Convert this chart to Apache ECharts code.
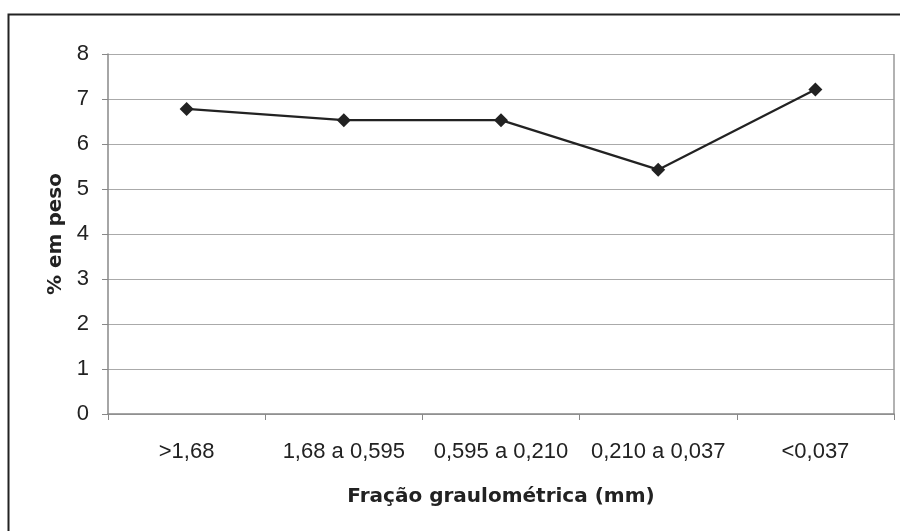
<!DOCTYPE html>
<html>
<head>
<meta charset="utf-8">
<script src="https://cdn.jsdelivr.net/npm/echarts@6/dist/echarts.min.js"></script>
<style>
  html, body { margin: 0; padding: 0; background: #fff; }
  #chart { width: 900px; height: 531px; }
</style>
</head>
<body>
<div id="chart"></div>
<script>
var categories = ['>1,68', '1,68 a 0,595', '0,595 a 0,210', '0,210 a 0,037', '<0,037'];
var values = [6.78, 6.53, 6.53, 5.43, 7.21];

var chartDom = document.getElementById('chart');
var myChart = echarts.init(chartDom);
var option;

option = {
    backgroundColor: '#fff',
    animation: false,
    textStyle: { fontFamily: 'Liberation Sans, Arial, sans-serif' },
    grid: {
        left: 108,
        right: 6,
        top: 54,
        bottom: 117
    },
    xAxis: {
        type: 'category',
        data: categories,
        boundaryGap: true,
        name: 'Fração graulométrica (mm)',
        nameLocation: 'middle',
        nameGap: 73,
        nameTextStyle: {
            fontSize: 20,
            fontWeight: 'bold',
            fontFamily: 'DejaVu Sans',
            color: '#222'
        },
        axisLine: { show: true, lineStyle: { color: '#888', width: 1.5 } },
        axisTick: { show: true, length: 6, inside: false, lineStyle: { color: '#888' } },
        axisLabel: { fontSize: 22, color: '#222', margin: 27, interval: 0 },
        splitLine: { show: false }
    },
    yAxis: {
        type: 'value',
        min: 0,
        max: 8,
        interval: 1,
        name: '% em peso',
        nameLocation: 'middle',
        nameGap: 40,
        nameTextStyle: {
            fontSize: 20,
            fontWeight: 'bold',
            fontFamily: 'DejaVu Sans',
            color: '#222'
        },
        axisLine: { show: true, lineStyle: { color: '#888', width: 1.5 } },
        axisTick: { show: true, length: 6, lineStyle: { color: '#888' } },
        axisLabel: { fontSize: 22, color: '#222', margin: 19 },
        splitLine: { show: true, lineStyle: { color: '#aaa', width: 1 } }
    },
    series: [
        {
            name: '% em peso',
            type: 'line',
            data: values,
            symbol: 'diamond',
            symbolSize: 14,
            lineStyle: { color: '#222', width: 2.2 },
            itemStyle: { color: '#222' }
        }
    ]
};

option && myChart.setOption(option);

// outer frame and right edge of the plot area, taken from the grid's geometry
var rect = myChart.getModel().getComponent('grid').coordinateSystem.getRect();
myChart.setOption({
    graphic: [
        {
            type: 'polyline',
            shape: { points: [[8.5, 531], [8.5, 14.5], [900, 14.5]] },
            style: { stroke: '#222', lineWidth: 2, fill: null }
        },
        {
            type: 'line',
            shape: { x1: rect.x + rect.width, y1: rect.y, x2: rect.x + rect.width, y2: rect.y + rect.height },
            style: { stroke: '#999', lineWidth: 1.5 }
        }
    ]
});
</script>
</body>
</html>
